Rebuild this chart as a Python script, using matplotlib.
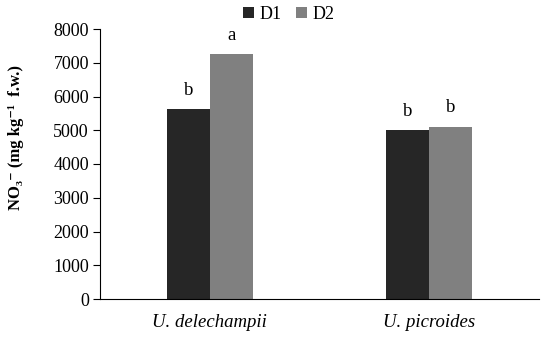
import matplotlib
matplotlib.use("Agg")
import matplotlib.pyplot as plt
import numpy as np

categories = ["U. delechampii", "U. picroides"]
d1 = [5630, 5010]
d2 = [7250, 5110]
letters_d1 = ["b", "b"]
letters_d2 = ["a", "b"]
series_names = ["D1", "D2"]
colors = ["#262626", "#808080"]

plt.rcParams['font.family'] = ['Liberation Serif', 'DejaVu Serif']

fig = plt.figure(figsize=(5.5, 3.46), dpi=100)
ax = fig.add_axes([100/550, 1-299/346, 439/550, 270/346])

x = np.arange(len(categories))
w = 0.196
b1 = ax.bar(x - w/2, d1, w, color=colors[0], label=series_names[0])
b2 = ax.bar(x + w/2, d2, w, color=colors[1], label=series_names[1])
for bars, labs in ((b1, letters_d1), (b2, letters_d2)):
    for r, t in zip(bars, labs):
        ax.text(r.get_x() + r.get_width()/2, r.get_height() + 300, t,
                ha='center', va='bottom', fontsize=13.5)

ax.set_xlim(-0.5, 1.5)
ax.set_ylim(0, 8000)
ax.set_yticks(range(0, 8001, 1000))
ax.set_xticks(x)
ax.set_xticklabels(categories, fontstyle='italic', fontsize=13.5)
ax.tick_params(axis='x', length=0, pad=11)
ax.tick_params(axis='y', length=5, labelsize=13, direction='out', pad=3)
for s in ['top', 'right']:
    ax.spines[s].set_visible(False)
ax.set_ylabel("NO\u2083\u207B (mg kg\u207B\u00B9  f.w.)", fontsize=12, fontweight='bold')
ax.yaxis.set_label_coords(-0.172, 0.6)
ax.legend(loc='upper center', bbox_to_anchor=(0.43, 1.145), ncol=2, frameon=False,
          fontsize=13, handlelength=0.6, handleheight=0.6, handletextpad=0.3, columnspacing=0.8)

fig.savefig("out.png", dpi=100)
